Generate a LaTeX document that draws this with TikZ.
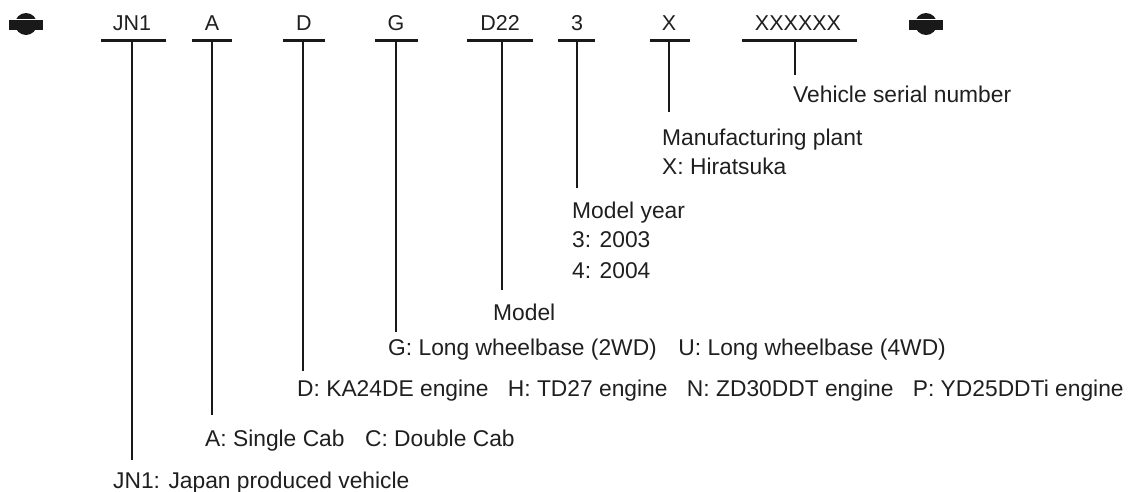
\documentclass[tikz,border=0pt]{standalone}
\usepackage{fontspec}
\setmainfont{Liberation Sans}
\begin{document}
\begin{tikzpicture}[x=1pt,y=-1pt,
  lbl/.style={font=\fontsize{22.8}{27}\selectfont, inner sep=0pt, text=black!88},
  code/.style={font=\fontsize{21.5}{26}\selectfont, inner sep=0pt, text=black!88, anchor=base},
  codebar/.style={line width=3pt, draw=black!90},
  stem/.style={line width=1.3pt, draw=black!90}]
\useasboundingbox (0,0) rectangle (1129,491);
% end symbols
\foreach \cx/\nm in {26/symL, 926/symR}{
  \fill[black!90] (\cx,24) circle (11);
  \fill[black!90] (\cx-17,19.5) rectangle (\cx+17,29.5);
  \draw[white, line width=0.8pt] (\cx-11,19) -- (\cx+11,19);
}
% code letters
\node[code] (cJN) at (132,30.5) {JN1};
\node[code] (cA) at (212,30.5) {A};
\node[code] (cD) at (304,30.5) {D};
\node[code] (cG) at (396,30.5) {G};
\node[code] (cM) at (500,30.5) {D22};
\node[code] (cY) at (577,30.5) {3};
\node[code] (cX) at (669,30.5) {X};
\node[code] (cS) at (798,30.5) {XXXXXX};
% bars
\draw[codebar] (101,40) -- (166,40);
\draw[codebar] (192,40) -- (232,40);
\draw[codebar] (283,40) -- (325,40);
\draw[codebar] (375,40) -- (418,40);
\draw[codebar] (467,40) -- (533,40);
\draw[codebar] (558,40) -- (595,40);
\draw[codebar] (650,40) -- (690,40);
\draw[codebar] (742,40) -- (857,40);
% stem anchors
\coordinate (tJN) at (132,40);  \coordinate (eJN) at (132,460);
\coordinate (tA)  at (212,40);  \coordinate (eA)  at (212,415);
\coordinate (tD)  at (303,40);  \coordinate (eD)  at (303,371);
\coordinate (tG)  at (396,40);  \coordinate (eG)  at (396,332);
\coordinate (tM)  at (502,40);  \coordinate (eM)  at (502,290);
\coordinate (tY)  at (577,40);  \coordinate (eY)  at (577,188);
\coordinate (tX)  at (669,40);  \coordinate (eX)  at (669,112);
\coordinate (tS)  at (795,40);  \coordinate (eS)  at (795,75);
\foreach \n in {JN,A,D,G,M,Y,X,S}{\draw[stem] (t\n) -- (e\n);}
% descriptions
\node[lbl, anchor=base west] (dS) at (793,102) {Vehicle serial number};
\node[lbl, anchor=base west] (dX1) at (662,145) {Manufacturing plant};
\node[lbl, anchor=base west] (dX2) at (662,174) {X: Hiratsuka};
\node[lbl, anchor=base west] (dY1) at (572,218) {Model year};
\node[lbl, anchor=base west] (dY2) at (572,247) {3: 2003};
\node[lbl, anchor=base west] (dY3) at (572,278) {4: 2004};
\node[lbl, anchor=base west] (dM) at (493,320) {Model};
\node[lbl, anchor=base west] (dG) at (388,355) {G: Long wheelbase (2WD)\hspace{0.95em}U: Long wheelbase (4WD)};
\node[lbl, anchor=base west] (dD) at (297,396) {D: KA24DE engine\hspace{0.85em}H: TD27 engine\hspace{0.85em}N: ZD30DDT engine\hspace{0.85em}P: YD25DDTi engine};
\node[lbl, anchor=base west] (dA) at (205,446) {A: Single Cab\hspace{0.9em}C: Double Cab};
\node[lbl, anchor=base west] (dJN) at (113,488) {JN1: Japan produced vehicle};
\end{tikzpicture}
\end{document}
